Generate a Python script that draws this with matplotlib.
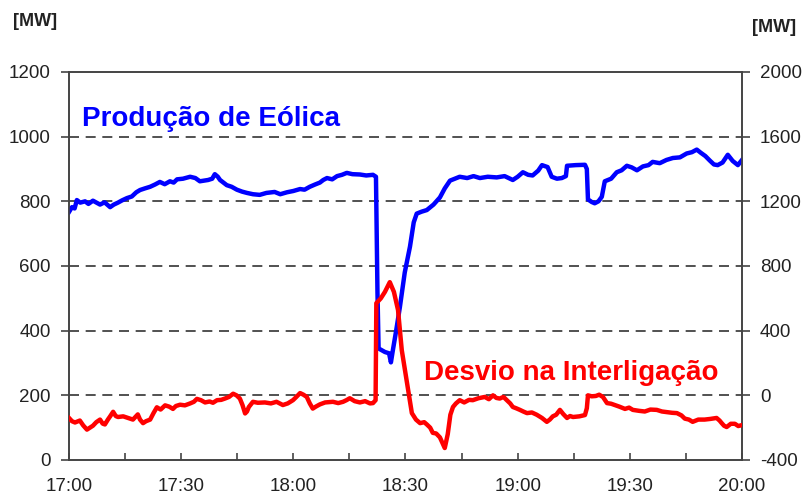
import matplotlib
matplotlib.use("Agg")
import matplotlib.pyplot as plt
from matplotlib.ticker import FixedLocator

plt.rcParams['font.family'] = ['Liberation Sans', 'DejaVu Sans']

# Wind production (left axis, MW); time in minutes after 17:00
wind_min = [0, 0.8, 1.5, 2.1, 3.0, 4.3, 5.2, 6.4, 7.5, 8.3, 9.5, 11.0, 12.0, 13.1, 14.2, 15.5,
            16.8, 18.0, 19.0, 20.3, 21.7, 23.0, 24.3, 25.6, 27.0, 28.0, 28.9, 30.5, 32.4, 33.8,
            35.0, 36.2, 37.2, 38.3, 39.0, 39.8, 40.4, 41.3, 42.2, 43.5, 44.9, 46.3, 47.6, 49.2,
            51.0, 52.8, 55.0, 56.5, 58.3, 60.0, 61.8, 63.0, 64.4, 65.8, 67.1, 68.0, 69.0, 70.4,
            71.7, 73.0, 74.3, 75.8, 77.8, 79.5, 81.3, 82.1, 82.5, 82.8, 84.5, 85.6, 86.1, 86.6,
            87.5, 88.5, 89.8, 91.2, 92.2, 93.0, 94.3, 95.7, 97.5, 99.2, 100.5, 101.9, 103.2,
            104.5, 106.5, 108.2, 109.9, 112.0, 114.4, 116.5, 118.7, 120.0, 121.4, 122.8, 124.0,
            125.5, 126.5, 128.0, 129.1, 130.5, 131.8, 132.9, 133.2, 135.5, 138.0, 138.5, 138.8,
            139.8, 140.6, 141.6, 142.5, 143.3, 145.0, 146.5, 147.8, 149.2, 150.5, 151.9, 153.5,
            155.0, 156.1, 158.0, 159.8, 161.5, 163.4, 165.2, 166.6, 167.9, 169.0, 170.2, 171.4,
            172.5, 173.5, 174.8, 176.2, 177.5, 178.9, 180.0]
wind_mw = [767, 782, 778, 804, 796, 800, 792, 802, 795, 790, 797, 782, 790, 796, 803, 810,
           815, 828, 835, 840, 845, 852, 860, 853, 862, 858, 868, 870, 876, 872,
           862, 864, 866, 870, 884, 876, 866, 858, 850, 845, 836, 830, 826, 822,
           820, 826, 829, 822, 828, 832, 838, 836, 845, 852, 858, 866, 872, 868,
           878, 882, 888, 884, 883, 880, 882, 876, 520, 345, 334, 330, 302, 338,
           400, 473, 580, 660, 735, 762, 768, 773, 790, 812, 840, 864, 870,
           876, 872, 878, 872, 876, 874, 878, 866, 876, 890, 882, 880,
           895, 912, 906, 876, 870, 872, 878, 910, 912, 913, 900, 806,
           798, 794, 800, 814, 862, 870, 890, 896, 910, 905, 896, 908,
           912, 922, 918, 928, 934, 936, 948, 952, 960, 950, 940, 926,
           914, 912, 920, 944, 925, 912, 928]

# Interconnection deviation (right axis, MW)
dev_min = [0, 0.8, 1.6, 2.9, 3.8, 4.8, 5.6, 6.4, 7.3, 8.3, 9.0, 9.6, 10.4, 11.0, 11.8, 12.5,
           13.1, 14.5, 15.8, 17.1, 18.4, 19.0, 19.8, 20.6, 21.7, 22.6, 23.5, 24.5, 25.7, 26.8,
           27.8, 28.6, 29.7, 31.0, 32.4, 33.4, 34.2, 35.3, 36.4, 37.6, 38.5, 39.6, 40.7, 41.7,
           42.8, 43.9, 44.8, 45.7, 46.4, 47.1, 47.6, 48.1, 49.2, 50.5, 52.4, 54.0, 55.5, 57.2,
           58.5, 59.9, 60.8, 61.8, 62.7, 63.6, 64.4, 65.2, 66.0, 67.1, 68.5, 70.6, 72.0, 73.3,
           74.2, 75.1, 76.4, 77.8, 79.2, 80.5, 81.3, 82.0, 82.2, 83.4, 84.5, 85.8, 86.9, 88.0,
           89.0, 90.4, 91.7, 92.8, 93.9, 95.0, 95.7, 96.6, 97.3, 98.2, 99.2, 100.5, 101.3,
           102.0, 102.7, 103.5, 104.5, 105.7, 107.0, 108.0, 109.5, 111.2, 112.3, 113.4, 114.3,
           115.2, 116.2, 117.1, 118.0, 118.7, 119.6, 120.6, 121.5, 122.5, 123.8, 125.1, 126.5,
           127.8, 128.6, 129.4, 130.3, 131.3, 132.2, 133.2, 134.0, 134.8, 136.5, 138.0, 138.5,
           138.8, 139.8, 140.9, 141.8, 142.8, 143.9, 145.0, 146.0, 147.2, 148.7, 149.8, 150.8,
           152.5, 154.0, 155.5, 157.2, 158.6, 159.9, 161.3, 162.6, 163.8, 164.7, 165.8, 166.8,
           168.3, 170.0, 171.5, 173.2, 174.0, 174.5, 175.2, 175.9, 177.0, 178.1, 179.0, 180.0]
dev_mw = [-140, -160, -168, -156, -186, -212, -200, -188, -166, -150, -175, -180, -150, -130, -102, -128,
          -134, -130, -140, -150, -118, -150, -172, -160, -150, -110, -74, -88, -62, -70,
          -84, -66, -58, -62, -50, -40, -22, -30, -44, -38, -46, -30, -28, -20,
          -10, 10, 0, -20, -60, -112, -100, -72, -40, -46, -44, -50, -40, -60,
          -50, -30, -10, 14, 4, -10, -50, -82, -70, -56, -44, -40, -48, -40,
          -30, -18, -36, -44, -36, -50, -48, -30, 570, 600, 640, 700, 640, 528,
          280, 76, -110, -150, -172, -166, -180, -200, -232, -236, -260, -326, -240,
          -120, -72, -50, -30, -44, -28, -30, -18, -10, -24, 0, -16,
          -20, -10, -30, -50, -72, -80, -90, -100, -110, -106, -120, -140,
          -164, -150, -130, -120, -90, -116, -140, -128, -134, -130, -122, -80,
          0, -6, -4, 4, -10, -48, -52, -60, -70, -84, -76, -90,
          -96, -100, -88, -90, -100, -104, -108, -110, -124, -144, -150, -164,
          -150, -150, -146, -140, -156, -170, -188, -196, -176, -176, -190, -184]

left_ticks = [0, 200, 400, 600, 800, 1000, 1200]
right_ticks = [-400, 0, 400, 800, 1200, 1600, 2000]
time_ticks = [0, 30, 60, 90, 120, 150, 180]
time_labels = ["17:00", "17:30", "18:00", "18:30", "19:00", "19:30", "20:00"]

BLUE = "#0000FF"
RED = "#FF0000"
AXIS = "#444444"
TEXT = "#222222"

fig = plt.figure(figsize=(8.03, 5.00), dpi=100)
ax = fig.add_axes([69 / 803, 40 / 500, 673 / 803, 388 / 500])
ax2 = ax.twinx()

ax.set_xlim(0, 180)
ax.set_ylim(0, 1200)
ax2.set_ylim(-400, 2000)

# dashed horizontal guides
for v in left_ticks[1:-1]:
    ax.axhline(v, color="#333333", lw=1.2, ls=(0, (6, 4)), zorder=1)

ax.plot(wind_min, wind_mw, color=BLUE, lw=3.2, solid_joinstyle="round", zorder=3)
ax2.plot(dev_min, dev_mw, color=RED, lw=3.2, solid_joinstyle="round", zorder=3)

for a in (ax, ax2):
    for s in a.spines.values():
        s.set_color(AXIS)
        s.set_linewidth(1.2)

ax.set_yticks(left_ticks)
ax.set_yticklabels([str(v) for v in left_ticks])
ax2.set_yticks(right_ticks)
ax2.set_yticklabels([str(v) for v in right_ticks])
ax.set_xticks(time_ticks)
ax.set_xticklabels(time_labels)
ax.xaxis.set_minor_locator(FixedLocator([15, 45, 75, 105, 135, 165]))

ax.tick_params(axis="y", direction="out", length=6, width=1.2, color=AXIS,
               labelsize=13.5, labelcolor=TEXT, pad=7)
ax2.tick_params(axis="y", direction="out", length=6, width=1.2, color=AXIS,
                labelsize=13.5, labelcolor=TEXT, pad=7)
ax.tick_params(axis="x", which="both", direction="in", length=5, width=1.2, color=AXIS,
               labelsize=13.5, labelcolor=TEXT, pad=13)

ax.text(0.019, 0.88, "Produção de Eólica", transform=ax.transAxes, color=BLUE,
        fontsize=20, fontweight="bold", va="center", ha="left")
ax.text(0.527, 0.225, "Desvio na Interligação", transform=ax.transAxes, color=RED,
        fontsize=20, fontweight="bold", va="center", ha="left")

fig.text(13 / 803, 1 - 21 / 500, "[MW]", fontsize=13, fontweight="bold", color=TEXT,
         ha="left", va="center")
fig.text(752 / 803, 1 - 28 / 500, "[MW]", fontsize=13, fontweight="bold", color=TEXT,
         ha="left", va="center")

fig.savefig("out.png", dpi=100)
